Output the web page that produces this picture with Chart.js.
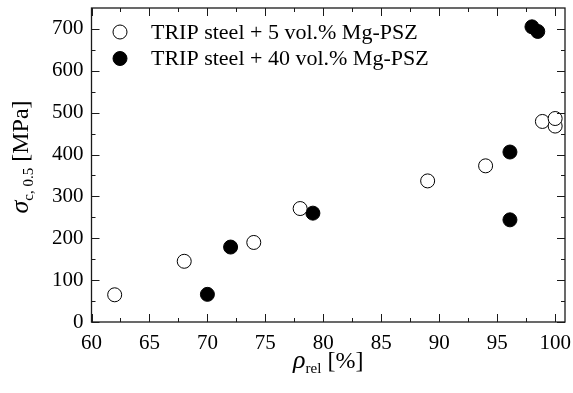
<!DOCTYPE html>
<html>
<head>
<meta charset="utf-8">
<script src="https://cdn.jsdelivr.net/npm/chart.js@4"></script>
<style>
  body { margin: 0; background: #fff; }
  canvas { display: block; }
</style>
</head>
<body>
<canvas id="grafico" width="573" height="393"></canvas>
<script>
// valores
const rho5 = [62, 68, 74, 78, 89, 94, 98.9, 100, 100];
const sigma5 = [65, 145, 190, 271, 337, 373, 479, 468, 486];
const rho40 = [70, 72, 79.1, 96.1, 96.1, 98, 98.5];
const sigma40 = [66, 179, 260, 406, 244, 705, 694];
const serieLabels = ["TRIP steel + 5 vol.% Mg-PSZ", "TRIP steel + 40 vol.% Mg-PSZ"];
const xTicks = [60, 65, 70, 75, 80, 85, 90, 95, 100];
const yTicks = [0, 100, 200, 300, 400, 500, 600, 700];

const FONT = "'Liberation Serif', 'Times New Roman', serif";
const INK = "#1a1a1a";

const pts = (xs, ys) => xs.map((x, i) => ({ x: x, y: ys[i] }));

// caixa, ticks para dentro, legenda e títulos com subscrito
const extras = {
  id: "extras",
  afterDatasetsDraw(chart) {
    const ctx = chart.ctx;
    const a = chart.chartArea;
    const sx = chart.scales.x, sy = chart.scales.y;
    ctx.save();
    ctx.strokeStyle = INK;
    ctx.lineWidth = 1.3;
    ctx.strokeRect(a.left, a.top, a.right - a.left, a.bottom - a.top);

    ctx.lineWidth = 1;
    ctx.beginPath();
    for (let v = 60; v <= 100; v += 2.5) {
      const px = Math.round(sx.getPixelForValue(v)) + 0.5;
      const len = v % 5 === 0 ? 8 : 4;
      ctx.moveTo(px, a.bottom); ctx.lineTo(px, a.bottom - len);
      ctx.moveTo(px, a.top); ctx.lineTo(px, a.top + len);
    }
    for (let v = 0; v < 750; v += 50) {
      const py = Math.round(sy.getPixelForValue(v)) + 0.5;
      const len = v % 100 === 0 ? 8 : 4;
      ctx.moveTo(a.left, py); ctx.lineTo(a.left + len, py);
      ctx.moveTo(a.right, py); ctx.lineTo(a.right - len, py);
    }
    ctx.stroke();

    // legenda
    ctx.font = "22px " + FONT;
    ctx.textBaseline = "middle";
    ctx.textAlign = "left";
    chart.data.datasets.forEach((ds, i) => {
      const cy = 32 + i * 26.5;
      ctx.beginPath();
      ctx.arc(120, cy, 7, 0, Math.PI * 2);
      ctx.fillStyle = ds.backgroundColor;
      ctx.fill();
      ctx.strokeStyle = "#000";
      ctx.lineWidth = 1;
      ctx.stroke();
      ctx.fillStyle = "#000";
      ctx.fillText(ds.label, 151, cy + 1);
    });

    // título do eixo x
    const xt = [["ρ", "italic 26px " + FONT, 0], ["rel", "15px " + FONT, 5], [" [%]", "24px " + FONT, 0]];
    drawParts(ctx, xt, (a.left + a.right) / 2, 368, 0);
    // título do eixo y
    const yt = [["σ", "italic 26px " + FONT, 0], ["c, 0.5", "15px " + FONT, 5], [" [MPa]", "24px " + FONT, 0]];
    drawParts(ctx, yt, 28, (a.top + a.bottom) / 2 - 8, -Math.PI / 2);
    ctx.restore();
  }
};

function drawParts(ctx, parts, cx, cy, rot) {
  ctx.save();
  ctx.translate(cx, cy);
  ctx.rotate(rot);
  ctx.textBaseline = "alphabetic";
  ctx.textAlign = "left";
  ctx.fillStyle = "#000";
  let w = 0;
  parts.forEach(p => { ctx.font = p[1]; w += ctx.measureText(p[0]).width; });
  let x = -w / 2;
  parts.forEach(p => {
    ctx.font = p[1];
    ctx.fillText(p[0], x, p[2]);
    x += ctx.measureText(p[0]).width;
  });
  ctx.restore();
}

const semPadding = s => { s.paddingLeft = 0; s.paddingRight = 0; s.paddingTop = 0; s.paddingBottom = 0; };

new Chart(document.getElementById("grafico"), {
  type: "scatter",
  data: {
    datasets: [
      {
        label: serieLabels[0],
        data: pts(rho5, sigma5),
        backgroundColor: "#ffffff",
        borderColor: "#000000",
        borderWidth: 1,
        pointRadius: 7,
        pointHoverRadius: 7
      },
      {
        label: serieLabels[1],
        data: pts(rho40, sigma40),
        backgroundColor: "#000000",
        borderColor: "#000000",
        borderWidth: 1,
        pointRadius: 7,
        pointHoverRadius: 7
      }
    ]
  },
  options: {
    responsive: false,
    animation: false,
    clip: false,
    layout: { padding: { top: 5, right: 5, left: 0, bottom: 0 } },
    plugins: {
      legend: { display: false },
      tooltip: { enabled: false }
    },
    scales: {
      x: {
        type: "linear",
        min: 60,
        max: 100.85,
        afterFit: s => { s.height = 71; semPadding(s); },
        afterBuildTicks: s => { s.ticks = xTicks.map(v => ({ value: v })); },
        grid: { display: false, drawTicks: false },
        border: { display: false },
        ticks: { color: "#000", padding: 9, maxRotation: 0, font: { family: FONT, size: 21 } }
      },
      y: {
        type: "linear",
        min: 0,
        max: 750,
        afterFit: s => { s.width = 91.5; semPadding(s); },
        afterBuildTicks: s => { s.ticks = yTicks.map(v => ({ value: v })); },
        grid: { display: false, drawTicks: false },
        border: { display: false },
        ticks: { color: "#000", padding: 8, font: { family: FONT, size: 21 } }
      }
    }
  },
  plugins: [extras]
});
</script>
</body>
</html>
